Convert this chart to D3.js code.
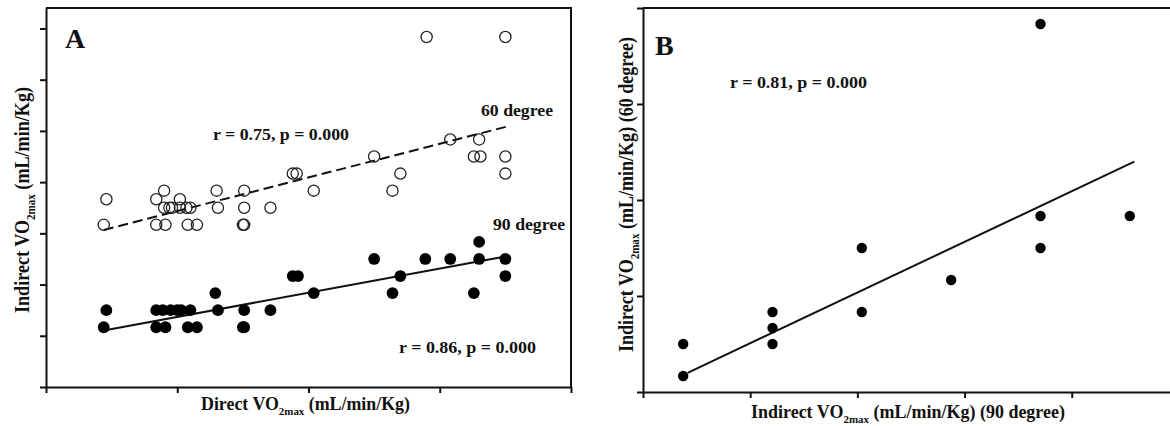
<!DOCTYPE html>
<html>
<head>
<meta charset="utf-8">
<script src="https://cdn.jsdelivr.net/npm/d3@7"></script>
<style>
  body { margin: 0; background: #fff; }
  text { font-family: "Liberation Serif", "Times New Roman", serif; font-weight: bold; fill: #111; }
  .axis path, .axis line { stroke: #111; stroke-width: 2; }
</style>
</head>
<body>
<svg id="chart" width="1170" height="426"></svg>
<script>
// Panel A: [direct VO2max, indirect VO2max]
var deg60 = [
  [49.0, 44.5], [55.0, 44.5],
  [50.8, 38.5], [53.0, 38.5],
  [45.0, 37.5], [52.6, 37.5], [53.1, 37.5], [55.0, 37.5],
  [38.8, 36.5], [39.1, 36.5], [47.0, 36.5], [55.0, 36.5],
  [29.0, 35.5], [33.0, 35.5], [35.1, 35.5], [40.4, 35.5], [46.4, 35.5],
  [24.6, 35.0], [28.4, 35.0], [30.2, 35.0],
  [29.0, 34.5], [29.4, 34.5], [29.6, 34.5], [30.2, 34.5], [30.7, 34.5], [31.0, 34.5], [33.1, 34.5], [35.1, 34.5], [37.1, 34.5],
  [24.4, 33.5], [28.4, 33.5], [29.1, 33.5], [30.8, 33.5], [31.5, 33.5], [35.0, 33.5], [35.1, 33.5]
]
var deg90 = [
  [53.0, 32.5],
  [45.0, 31.5], [48.9, 31.5], [50.8, 31.5], [53.0, 31.5], [55.0, 31.5],
  [38.8, 30.5], [39.2, 30.5], [47.0, 30.5], [55.0, 30.5],
  [32.9, 29.5], [40.4, 29.5], [46.4, 29.5], [52.6, 29.5],
  [24.6, 28.5], [28.4, 28.5], [28.9, 28.5], [29.5, 28.5], [30.0, 28.5], [30.3, 28.5], [31.0, 28.5], [33.1, 28.5], [35.1, 28.5], [37.1, 28.5],
  [24.4, 27.5], [28.4, 27.5], [29.1, 27.5], [30.8, 27.5], [31.5, 27.5], [35.0, 27.5], [35.1, 27.5]
]
var fit60 = [[24.4, 33.2], [55.1, 39.25]]
var fit90 = [[24.3, 27.3], [55.0, 31.65]]

// Panel B: [indirect 90 degree, indirect 60 degree]
var panelB = [
  [27.5, 34.5], [27.5, 33.5],
  [28.5, 35.5], [28.5, 35.0], [28.5, 34.5],
  [29.5, 37.5], [29.5, 35.5],
  [30.5, 36.5],
  [31.5, 38.5], [31.5, 37.5], [31.5, 44.5],
  [32.5, 38.5]
]
var fitB = [[27.55, 33.6], [32.55, 40.2]]

var xTicksA = [20, 30, 40, 50, 60]
var yTicksA = [24, 27, 30, 33, 36, 39, 42, 45]
var xTicksB = [27.05, 28.25, 29.45, 30.65, 31.85]
var yTicksB = [33, 36, 39, 42, 45]

var svg = d3.select("#chart")

// axis title with a "2max" subscript; rotated ones are stretched across the glyphs
function label(g, parts, x, y, len, rotated) {
  var t = g.append("text")
    .attr("transform", "translate(" + x + "," + y + ")" + (rotated ? " rotate(-90) scale(1,1.2)" : ""))
    .attr("text-anchor", "start")
    .style("font-size", "18px")
  parts.forEach(function (p) {
    t.append("tspan")
      .attr("dy", p.sub ? 5 : (p.after ? -5 : 0))
      .style("font-size", p.sub ? "11px" : "18px")
      .text(p.t)
  })
  if (len) t.attr("textLength", len).attr("lengthAdjust", "spacingAndGlyphs")
  return t
}

function text(g, str, x, y, size, len) {
  var t = g.append("text").attr("x", x).attr("y", y).style("font-size", size + "px").text(str)
  if (len) t.attr("textLength", len).attr("lengthAdjust", "spacingAndGlyphs")
  return t
}

// ---------- Panel A ----------
var xA = d3.scaleLinear().domain([20, 60]).range([46, 571])
var yA = d3.scaleLinear().domain([24, 46.2]).range([387, 8])
var gA = svg.append("g")

gA.append("g").attr("class", "axis")
  .attr("transform", "translate(0," + yA.range()[0] + ")")
  .call(d3.axisBottom(xA).tickValues(xTicksA).tickSize(6).tickSizeOuter(0).tickFormat(""))
gA.append("g").attr("class", "axis")
  .attr("transform", "translate(" + xA.range()[0] + ",0)")
  .call(d3.axisLeft(yA).tickValues(yTicksA).tickSize(6).tickSizeOuter(0).tickFormat(""))
// box
gA.append("path")
  .attr("d", "M" + xA.range()[0] + "," + yA.range()[1] + "H" + xA.range()[1] + "V" + yA.range()[0])
  .attr("fill", "none").attr("stroke", "#111").attr("stroke-width", 2)

var line = function (xs, ys) { return d3.line().x(d => xs(d[0])).y(d => ys(d[1])) }

gA.append("path").datum(fit60)
  .attr("d", line(xA, yA))
  .attr("stroke", "#111").attr("stroke-width", 2).attr("stroke-dasharray", "10,5").attr("fill", "none")
gA.append("path").datum(fit90)
  .attr("d", line(xA, yA))
  .attr("stroke", "#111").attr("stroke-width", 2).attr("fill", "none")

gA.selectAll(".open").data(deg60).enter().append("circle")
  .attr("cx", d => xA(d[0])).attr("cy", d => yA(d[1])).attr("r", 5.6)
  .attr("fill", "none").attr("stroke", "#222").attr("stroke-width", 1.3)
gA.selectAll(".fill").data(deg90).enter().append("circle")
  .attr("cx", d => xA(d[0])).attr("cy", d => yA(d[1])).attr("r", 5.9)
  .attr("fill", "#000")

text(gA, "A", 65, 48, 28)
text(gA, "r = 0.75, p = 0.000", 213, 140, 16, 136)
text(gA, "60 degree", 481, 116, 16, 72)
text(gA, "90 degree", 493, 230, 16, 72)
text(gA, "r = 0.86, p = 0.000", 399, 353, 16, 137)

label(gA, [{t: "Direct VO"}, {t: "2max", sub: true}, {t: " (mL/min/Kg)", after: true}], 201, 410, 209)
label(gA, [{t: "Indirect VO"}, {t: "2max", sub: true}, {t: " (mL/min/Kg)", after: true}], 29, 313, 226, true)

// ---------- Panel B ----------
var xB = d3.scaleLinear().domain([27.05, 32.95]).range([643, 1170])
var yB = d3.scaleLinear().domain([33, 45]).range([392, 8])
var gB = svg.append("g")

gB.append("g").attr("class", "axis")
  .attr("transform", "translate(0," + yB.range()[0] + ")")
  .call(d3.axisBottom(xB).tickValues(xTicksB).tickSize(6).tickSizeOuter(0).tickFormat(""))
gB.append("g").attr("class", "axis")
  .attr("transform", "translate(" + xB.range()[0] + ",0)")
  .call(d3.axisLeft(yB).tickValues(yTicksB).tickSize(6).tickSizeOuter(0).tickFormat(""))
gB.append("line")
  .attr("x1", xB.range()[0]).attr("x2", xB.range()[1])
  .attr("y1", yB.range()[1]).attr("y2", yB.range()[1])
  .attr("stroke", "#111").attr("stroke-width", 2)

gB.append("path").datum(fitB)
  .attr("d", line(xB, yB))
  .attr("stroke", "#111").attr("stroke-width", 2).attr("fill", "none")

gB.selectAll(".pt").data(panelB).enter().append("circle")
  .attr("cx", d => xB(d[0])).attr("cy", d => yB(d[1])).attr("r", 5.2)
  .attr("fill", "#000")

text(gB, "B", 655, 55, 28)
text(gB, "r = 0.81, p = 0.000", 730, 88, 16, 137)

label(gB, [{t: "Indirect VO"}, {t: "2max", sub: true}, {t: " (mL/min/Kg) (90 degree)", after: true}], 751, 418, 314)
label(gB, [{t: "Indirect VO"}, {t: "2max", sub: true}, {t: " (mL/min/Kg) (60 degree)", after: true}], 633, 352, 315, true)
</script>
</body>
</html>
